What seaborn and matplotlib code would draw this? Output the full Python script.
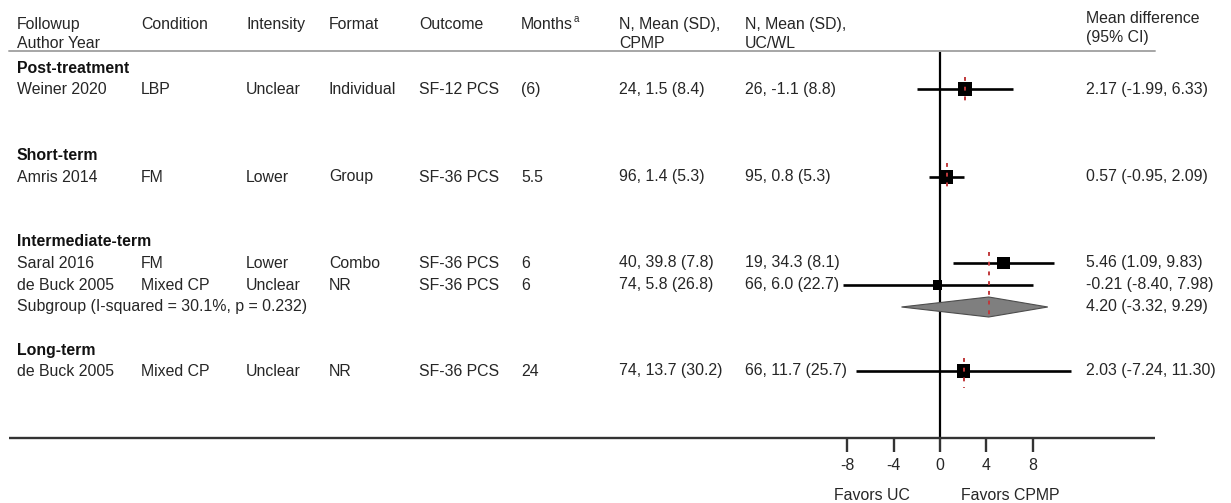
import matplotlib
matplotlib.use("Agg")
import matplotlib.pyplot as plt
from matplotlib.transforms import blended_transform_factory
from matplotlib.patches import Polygon
import seaborn as sns
import pandas as pd

sns.set_theme(style="white")
plt.rcParams["font.family"] = ["Liberation Sans", "DejaVu Sans"]

# ---- study-level data -------------------------------------------------------
groups = ["Post-treatment", "Short-term", "Intermediate-term", "Long-term"]
authors = ["Weiner 2020", "Amris 2014", "Saral 2016", "de Buck 2005", "de Buck 2005"]
conditions = ["LBP", "FM", "FM", "Mixed CP", "Mixed CP"]
intensities = ["Unclear", "Lower", "Lower", "Unclear", "Unclear"]
formats = ["Individual", "Group", "Combo", "NR", "NR"]
outcomes = ["SF-12 PCS", "SF-36 PCS", "SF-36 PCS", "SF-36 PCS", "SF-36 PCS"]
months = ["(6)", "5.5", "6", "6", "24"]
n_cpmp = [24, 96, 40, 74, 74]
mean_cpmp = ["1.5", "1.4", "39.8", "5.8", "13.7"]
sd_cpmp = ["8.4", "5.3", "7.8", "26.8", "30.2"]
n_uc = [26, 95, 19, 66, 66]
mean_uc = ["-1.1", "0.8", "34.3", "6.0", "11.7"]
sd_uc = ["8.8", "5.3", "8.1", "22.7", "25.7"]
md = [2.17, 0.57, 5.46, -0.21, 2.03]
ci_lo = [-1.99, -0.95, 1.09, -8.40, -7.24]
ci_hi = [6.33, 2.09, 9.83, 7.98, 11.30]
weight = [100, 92, 80, 42, 100]

# pooled estimate for the intermediate-term subgroup
sub_label = "Subgroup (I-squared = 30.1%, p = 0.232)"
sub_md, sub_lo, sub_hi = 4.20, -3.32, 9.29

xticks = [-8, -4, 0, 4, 8]

# ---- layout (pixel rows, top to bottom) ------------------------------------
W, H = 1231, 503
PX_PER_UNIT = 11.6
X0_PX = 940
group_rows = [68, 155, 242, 350]
study_rows = [89, 177, 263, 285, 371]
sub_row = 307
rule_y = 51
axis_y = 438
ref_spans = [(77, 105), (163, 191), (252, 318), (358, 388)]

fig = plt.figure(figsize=(W / 100, H / 100), dpi=100)
ax = fig.add_axes([0, 0, 1, 1])

tr = blended_transform_factory(ax.transAxes, ax.transData)
def colx(px):
    return px / W

TXT = "#262626"
FS = 11.4

col_px = [17, 141, 246, 329, 419, 521]
cpmp_px, uc_px, md_px = 619, 745, 1086

# ---- forest marks ----------------------------------------------------------
df = pd.DataFrame({"md": md, "row": study_rows, "w": weight})
sns.scatterplot(data=df, x="md", y="row", size="w", sizes=(min(weight), max(weight)),
                size_norm=(min(weight), max(weight)), marker="s", color="black",
                edgecolor="black", linewidth=0, legend=False, ax=ax, zorder=5)
ax.set_xlim(-X0_PX / PX_PER_UNIT, (W - X0_PX) / PX_PER_UNIT)
ax.set_ylim(H, 0)
ax.axis("off")

ax.vlines(0, rule_y, axis_y, color="black", lw=1.6, zorder=2)

pooled = [md[0], md[1], sub_md, md[4]]
for x, (y0, y1) in zip(pooled, ref_spans):
    ax.vlines(x, y0, y1, color="#c0393b", lw=1.4, linestyles=(0, (2, 3)), zorder=6)

ax.hlines(study_rows, ci_lo, ci_hi, color="black", lw=1.9, zorder=3)

dh = 10
diamond = Polygon([[sub_lo, sub_row], [sub_md, sub_row - dh], [sub_hi, sub_row],
                   [sub_md, sub_row + dh]], closed=True, facecolor="#7f7f7f",
                  edgecolor="#4d4d4d", lw=0.8, zorder=3)
ax.add_patch(diamond)

# ---- header ----------------------------------------------------------------
headers = [
    (col_px[0], "Followup", "Author Year"),
    (col_px[1], "Condition", ""),
    (col_px[2], "Intensity", ""),
    (col_px[3], "Format", ""),
    (col_px[4], "Outcome", ""),
    (col_px[5], "Months", ""),
    (cpmp_px, "N, Mean (SD),", "CPMP"),
    (uc_px, "N, Mean (SD),", "UC/WL"),
]
for px, l1, l2 in headers:
    ax.text(colx(px), 24, l1, transform=tr, fontsize=FS, color=TXT, va="center", ha="left")
    if l2:
        ax.text(colx(px), 43, l2, transform=tr, fontsize=FS, color=TXT, va="center", ha="left")
ax.text(colx(574), 19, "a", transform=tr, fontsize=7, color=TXT, va="center", ha="left")
ax.text(colx(md_px), 18, "Mean difference", transform=tr, fontsize=FS, color=TXT, va="center")
ax.text(colx(md_px), 37, "(95% CI)", transform=tr, fontsize=FS, color=TXT, va="center")
ax.plot([colx(9), colx(1155)], [rule_y, rule_y], transform=tr, color="#a6a6a6", lw=1.4)

# ---- group titles and study rows -------------------------------------------
for g, y in zip(groups, group_rows):
    ax.text(colx(col_px[0]), y, g, transform=tr, fontsize=FS, color="#111111",
            fontweight="bold", va="center")

cols = [authors, conditions, intensities, formats, outcomes, months]
for i, y in enumerate(study_rows):
    for c, px in zip(cols, col_px):
        ax.text(colx(px), y, c[i], transform=tr, fontsize=FS, color=TXT, va="center")
    ax.text(colx(cpmp_px), y, f"{n_cpmp[i]}, {mean_cpmp[i]} ({sd_cpmp[i]})", transform=tr,
            fontsize=FS, color=TXT, va="center")
    ax.text(colx(uc_px), y, f"{n_uc[i]}, {mean_uc[i]} ({sd_uc[i]})", transform=tr,
            fontsize=FS, color=TXT, va="center")
    ax.text(colx(md_px), y, f"{md[i]:.2f} ({ci_lo[i]:.2f}, {ci_hi[i]:.2f})", transform=tr,
            fontsize=FS, color=TXT, va="center")

ax.text(colx(col_px[0]), sub_row, sub_label, transform=tr, fontsize=FS, color=TXT, va="center")
ax.text(colx(md_px), sub_row, f"{sub_md:.2f} ({sub_lo:.2f}, {sub_hi:.2f})", transform=tr,
        fontsize=FS, color=TXT, va="center")

# ---- x axis ----------------------------------------------------------------
ax.plot([colx(9), colx(1155)], [axis_y, axis_y], transform=tr, color="#333333", lw=1.7,
        solid_capstyle="butt")
for t in xticks:
    ax.vlines(t, axis_y, axis_y + 14, color="#333333", lw=1.7)
    ax.text(t, 466, f"{t}", fontsize=FS, color=TXT, ha="center", va="center")
ax.text(colx(872), 495, "Favors UC", transform=tr, fontsize=FS, color=TXT, ha="center", va="center")
ax.text(colx(1010), 495, "Favors CPMP", transform=tr, fontsize=FS, color=TXT, ha="center", va="center")

fig.savefig("out.png", dpi=100, facecolor="white")
